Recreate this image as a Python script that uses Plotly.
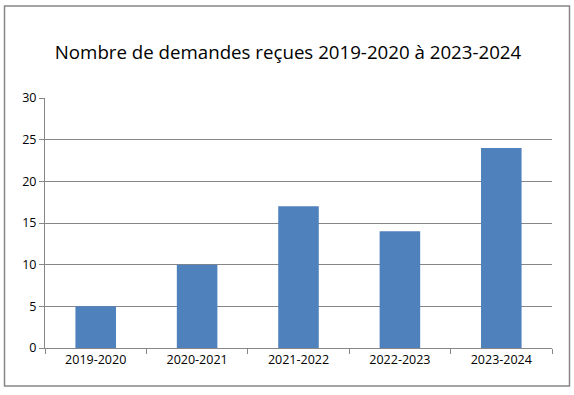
import plotly.graph_objects as go

categories = ["2019-2020", "2020-2021", "2021-2022", "2022-2023", "2023-2024"]
values = [5, 10, 17, 14, 24]
title_text = "Nombre de demandes reçues 2019-2020 à 2023-2024"

W, H = 574, 395
L, R, T, B = 45, 22, 98, 47
pw, ph = W - L - R, H - T - B

def px_x(p):
    return (p - L) / pw

def px_y(p):
    return (H - B - p) / ph

fig = go.Figure(go.Bar(x=categories, y=values, marker=dict(color="#4F81BD", line=dict(width=0))))

fig.update_layout(
    width=W, height=H,
    margin=dict(l=L, r=R, t=T, b=B),
    paper_bgcolor="white", plot_bgcolor="white",
    bargap=0.6,
    showlegend=False,
    font=dict(family="Open Sans", size=12.5, color="black"),
    title=dict(text=title_text, x=(288 - L) / pw, xanchor="center", xref="paper",
               y=1 - 52 / H, yanchor="middle",
               font=dict(family="Open Sans", size=18.7, color="black")),
)
fig.update_xaxes(
    showline=True, linecolor="#868686", linewidth=1,
    ticks="outside", tickson="boundaries", ticklen=5, tickcolor="#868686",
    showgrid=False, tickfont=dict(size=12.5),
)
fig.update_yaxes(
    range=[0, 30], dtick=5, showline=True, linecolor="#868686", linewidth=1,
    ticks="outside", ticklen=5, tickcolor="#868686",
    showgrid=True, gridcolor="#868686", gridwidth=1, zeroline=False,
    tickfont=dict(size=12.5),
)
fig.add_shape(type="rect", xref="paper", yref="paper",
              x0=px_x(4.5), x1=px_x(569.5), y0=px_y(386), y1=px_y(6),
              line=dict(color="#868686", width=1.5), fillcolor="rgba(0,0,0,0)")
fig.write_html("out.html", config={"displayModeBar": False},
               post_script="document.body.style.margin='0';document.body.style.overflow='hidden';")
